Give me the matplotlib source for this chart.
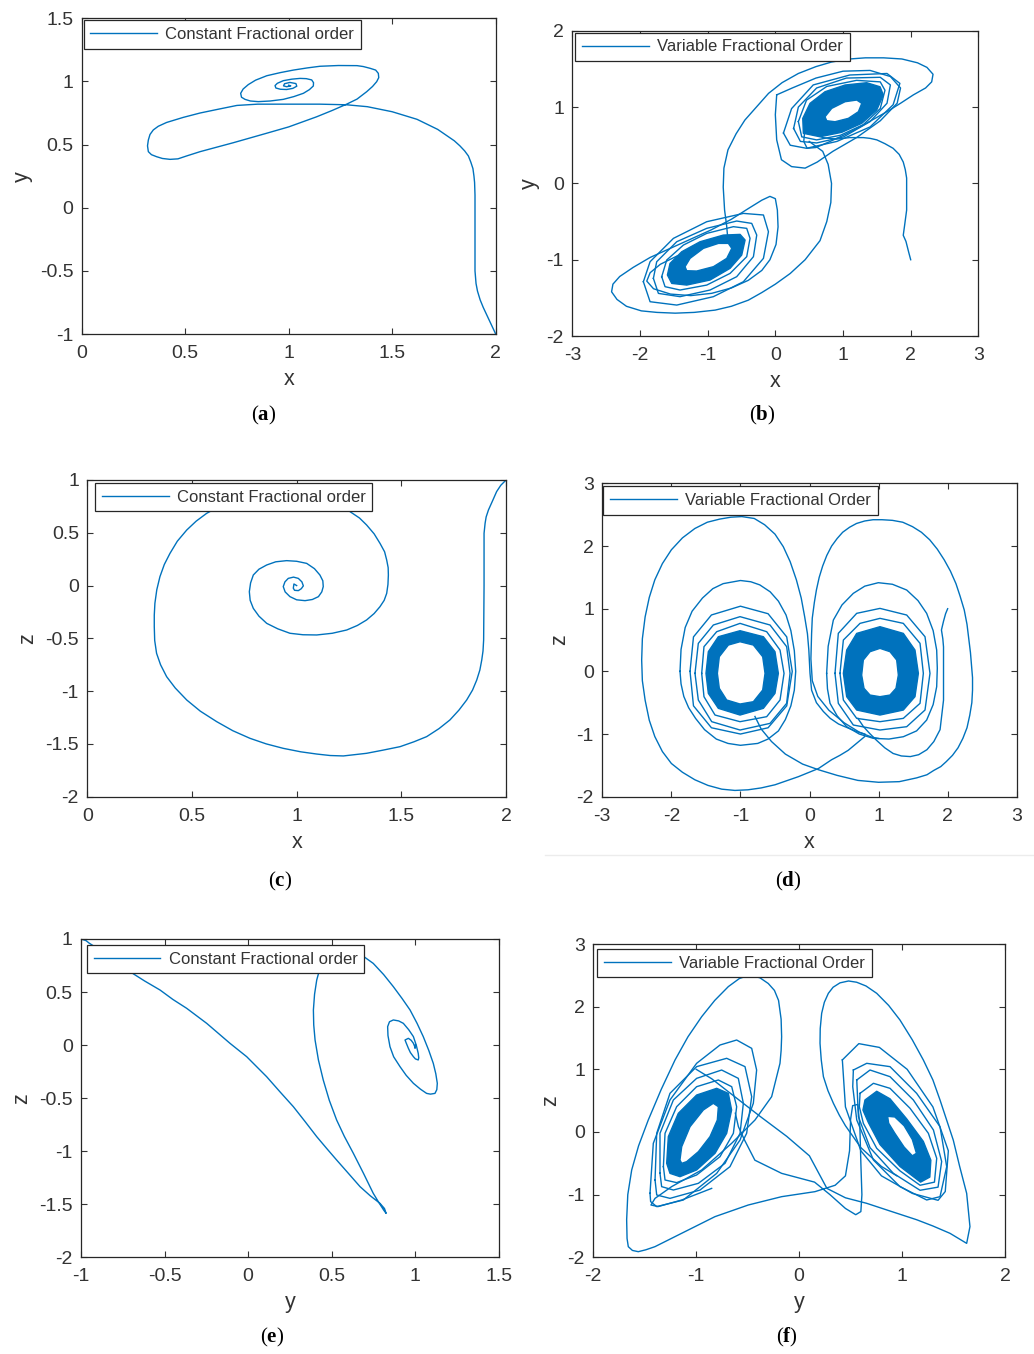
import numpy as np
import matplotlib
matplotlib.use("Agg")
import matplotlib.pyplot as plt
from matplotlib.path import Path
from matplotlib.patches import PathPatch
from matplotlib.lines import Line2D
from matplotlib.ticker import FuncFormatter

plt.rcParams['font.family'] = ['Liberation Sans', 'DejaVu Sans']
plt.rcParams['axes.unicode_minus'] = False
plt.rcParams['mathtext.fontset'] = 'custom'
plt.rcParams['mathtext.rm'] = 'Liberation Serif'
plt.rcParams['mathtext.bf'] = 'Liberation Serif:bold'

BLUE = '#0072BD'
INK = '#333333'

# ---------------- constant order: x-y ----------------
a_x = [2.0, 1.98, 1.96, 1.94, 1.925, 1.912, 1.905, 1.90, 1.90, 1.90, 1.898, 1.895, 1.89, 1.88, 1.868,
       1.85, 1.827, 1.80, 1.76, 1.72, 1.67, 1.62, 1.56, 1.50, 1.44, 1.38, 1.28, 1.15, 1.0, 0.85, 0.75,
       0.66, 0.572, 0.49, 0.41, 0.37, 0.346, 0.33, 0.322, 0.318, 0.322, 0.337, 0.362, 0.39, 0.427,
       0.465, 0.507, 0.572, 0.733, 0.894, 1.0, 1.135, 1.21, 1.28, 1.33, 1.377, 1.405, 1.425, 1.435,
       1.433, 1.42, 1.393, 1.36, 1.33, 1.24, 1.151, 1.09, 1.023, 0.96, 0.894, 0.84, 0.805, 0.78,
       0.768, 0.772, 0.789, 0.815, 0.853, 0.91, 0.974, 1.025, 1.071, 1.10, 1.119, 1.12, 1.111,
       1.085, 1.055, 1.015, 0.974, 0.945, 0.934, 0.938, 0.96, 0.99, 1.02, 1.039, 1.035, 1.006, 0.98,
       0.975, 0.99, 1.01, 1.0]
a_y = [-1.0, -0.93, -0.86, -0.79, -0.73, -0.66, -0.6, -0.5, -0.2, 0.1, 0.2, 0.25, 0.31, 0.36, 0.41,
       0.45, 0.49, 0.53, 0.575, 0.62, 0.66, 0.70, 0.73, 0.76, 0.78, 0.80, 0.815, 0.82, 0.82, 0.82,
       0.81, 0.78, 0.75, 0.715, 0.675, 0.645, 0.616, 0.58, 0.536, 0.49, 0.444, 0.42, 0.404, 0.39,
       0.383, 0.387, 0.41, 0.444, 0.515, 0.59, 0.64, 0.72, 0.77, 0.82, 0.86, 0.919, 0.96, 0.998,
       1.03, 1.064, 1.09, 1.104, 1.118, 1.125, 1.126, 1.12, 1.107, 1.09, 1.07, 1.045, 1.01, 0.975,
       0.94, 0.906, 0.875, 0.858, 0.845, 0.84, 0.845, 0.858, 0.88, 0.906, 0.935, 0.964, 0.99,
       1.012, 1.022, 1.024, 1.018, 1.006, 0.985, 0.967, 0.948, 0.938, 0.936, 0.945, 0.962, 0.983,
       0.992, 0.982, 0.965, 0.958, 0.965, 0.97]

# ---------------- constant order: x-z ----------------
c_x = [2.0, 1.975, 1.955, 1.935, 1.916, 1.905, 1.90, 1.895, 1.895, 1.893, 1.89, 1.884, 1.875, 1.86,
       1.84, 1.812, 1.775, 1.732, 1.68, 1.621, 1.56, 1.494, 1.41, 1.334, 1.223, 1.16, 1.096, 1.02,
       0.936, 0.855, 0.777, 0.695, 0.618, 0.54, 0.475, 0.42, 0.379, 0.35, 0.331, 0.322, 0.32, 0.32,
       0.323, 0.332, 0.347, 0.368, 0.395, 0.43, 0.475, 0.52, 0.57, 0.65, 0.75, 0.85, 0.95, 1.05,
       1.15, 1.21, 1.255, 1.30, 1.334, 1.37, 1.398, 1.42, 1.43, 1.437, 1.438, 1.436, 1.43, 1.418,
       1.398, 1.37, 1.334, 1.29, 1.239, 1.17, 1.096, 1.03, 0.968, 0.91, 0.857, 0.82, 0.793, 0.778,
       0.774, 0.78, 0.793, 0.82, 0.857, 0.90, 0.952, 1.0, 1.048, 1.085, 1.111, 1.125, 1.127, 1.12,
       1.104, 1.075, 1.04, 1.0, 0.968, 0.945, 0.936, 0.944, 0.96, 0.985, 1.008, 1.025, 1.032, 1.022,
       1.008, 0.99, 0.984, 0.987, 1.0]
c_z = [1.0, 0.95, 0.89, 0.80, 0.716, 0.65, 0.59, 0.495, 0.0, -0.516, -0.62, -0.705, -0.80, -0.895,
       -0.99, -1.084, -1.18, -1.273, -1.355, -1.431, -1.48, -1.526, -1.56, -1.589, -1.614, -1.61,
       -1.596, -1.575, -1.542, -1.50, -1.447, -1.375, -1.289, -1.19, -1.084, -0.97, -0.863, -0.75,
       -0.642, -0.52, -0.389, -0.28, -0.168, -0.04, 0.084, 0.20, 0.305, 0.42, 0.526, 0.61, 0.684,
       0.77, 0.83, 0.86, 0.87, 0.86, 0.83, 0.77, 0.70, 0.64, 0.574, 0.49, 0.40, 0.32, 0.242, 0.17,
       0.1, 0.01, -0.074, -0.14, -0.2, -0.265, -0.326, -0.378, -0.421, -0.452, -0.468, -0.466,
       -0.452, -0.41, -0.358, -0.29, -0.216, -0.14, -0.058, 0.025, 0.1, 0.155, 0.195, 0.225, 0.236,
       0.23, 0.21, 0.16, 0.1, 0.045, -0.01, -0.06, -0.105, -0.132, -0.143, -0.135, -0.105, -0.06,
       -0.01, 0.035, 0.068, 0.08, 0.068, 0.035, -0.003, -0.03, -0.048, -0.045, -0.025, 0.015, 0.0]

# ---------------- constant order: y-z ----------------
e_y = [-1.0, -0.97, -0.95, -0.90, -0.85, -0.78, -0.707, -0.62, -0.527, -0.45, -0.368, -0.248, -0.109,
       -0.009, 0.11, 0.19, 0.27, 0.34, 0.41, 0.47, 0.529, 0.60, 0.669, 0.73, 0.788, 0.815, 0.825,
       0.81, 0.78, 0.748, 0.69, 0.629, 0.575, 0.529, 0.485, 0.449, 0.42, 0.40, 0.392, 0.39, 0.397,
       0.41, 0.425, 0.44, 0.47, 0.50, 0.55, 0.60, 0.639, 0.695, 0.748, 0.81, 0.868, 0.92, 0.968,
       1.01, 1.047, 1.08, 1.107, 1.122, 1.131, 1.128, 1.117, 1.09, 1.067, 1.03, 0.988, 0.945, 0.908,
       0.87, 0.848, 0.836, 0.834, 0.845, 0.868, 0.90, 0.928, 0.96, 0.988, 1.005, 1.017, 1.02, 1.017,
       1.0, 0.988, 0.97, 0.958, 0.945, 0.938, 0.958, 0.975, 0.988, 0.995, 0.998, 1.0]
e_z = [1.0, 0.985, 0.96, 0.91, 0.86, 0.78, 0.692, 0.605, 0.519, 0.43, 0.347, 0.205, 0.017, -0.109,
       -0.297, -0.44, -0.58, -0.72, -0.863, -0.975, -1.083, -1.21, -1.334, -1.42, -1.491, -1.54,
       -1.586, -1.554, -1.48, -1.397, -1.21, -1.02, -0.86, -0.706, -0.52, -0.329, -0.14, 0.048,
       0.19, 0.331, 0.48, 0.614, 0.70, 0.77, 0.84, 0.88, 0.91, 0.905, 0.88, 0.83, 0.77, 0.665, 0.551,
       0.44, 0.331, 0.205, 0.08, -0.05, -0.172, -0.27, -0.36, -0.42, -0.455, -0.462, -0.455, -0.415,
       -0.36, -0.285, -0.203, -0.11, -0.015, 0.09, 0.174, 0.22, 0.237, 0.228, 0.205, 0.145, 0.08,
       0.0, -0.078, -0.12, -0.14, -0.13, -0.109, -0.07, -0.03, 0.02, 0.048, 0.064, 0.045, 0.017,
       -0.01, -0.03, 0.0]

# ---------------- variable order: x-y ----------------
b_x0 = [2.0, 1.97, 1.93, 1.89, 1.91, 1.94, 1.94, 1.94, 1.92, 1.89, 1.83, 1.74, 1.62, 1.50, 1.40,
        1.30, 1.20, 1.10, 0.90, 0.70, 0.55]
b_y0 = [-1.0, -0.9, -0.76, -0.68, -0.55, -0.35, -0.05, 0.07, 0.18, 0.28, 0.38, 0.46, 0.52, 0.57,
        0.59, 0.60, 0.60, 0.60, 0.58, 0.60, 0.66]

b_rbo_x = [0.414, 0.405, 0.513, 0.734, 1.03, 1.35, 1.547, 1.596, 1.498, 1.277, 0.981, 0.66]
b_rbo_y = [0.656, 0.852, 1.049, 1.201, 1.289, 1.319, 1.266, 1.158, 0.961, 0.787, 0.669, 0.611]
b_rbi_x = [0.734, 0.833, 1.03, 1.203, 1.277, 1.227, 1.079, 0.882, 0.759]
b_rbi_y = [0.873, 0.983, 1.07, 1.092, 1.049, 0.939, 0.852, 0.808, 0.821]

b_rl1_x = [0.34, 0.46, 0.76, 1.20, 1.55, 1.62, 1.55, 1.30, 0.96, 0.61, 0.39]
b_rl1_y = [0.81, 1.09, 1.27, 1.35, 1.33, 1.22, 0.98, 0.77, 0.63, 0.57, 0.61]
b_rl2_x = [0.27, 0.34, 0.61, 1.05, 1.55, 1.70, 1.65, 1.40, 1.01, 0.61, 0.37]
b_rl2_y = [0.72, 1.00, 1.25, 1.38, 1.39, 1.29, 1.05, 0.81, 0.61, 0.53, 0.55]
b_rl3_x = [0.12, 0.24, 0.56, 1.10, 1.65, 1.84, 1.74, 1.40, 0.91, 0.46, 0.22]
b_rl3_y = [0.66, 0.98, 1.29, 1.42, 1.44, 1.31, 1.03, 0.74, 0.55, 0.46, 0.50]
b_rl4_x = [0.02, 0.0, 0.02, 0.09, 0.24, 0.44, 0.62, 0.85, 1.2, 1.55, 1.8, 1.85, 1.7, 1.4, 1.0, 0.6, 0.25]
b_rl4_y = [1.16, 0.9, 0.57, 0.31, 0.22, 0.20, 0.28, 0.42, 0.6, 0.82, 1.05, 1.25, 1.40, 1.48, 1.47, 1.38, 1.25]

b_lbo_x = [-1.595, -1.556, -1.383, -1.112, -0.768, -0.521, -0.447, -0.497, -0.669, -0.965, -1.309, -1.531]
b_lbo_y = [-1.20, -1.048, -0.895, -0.764, -0.677, -0.668, -0.742, -0.939, -1.113, -1.266, -1.332, -1.31]
b_lbi_x = [-1.334, -1.26, -1.063, -0.841, -0.694, -0.644, -0.718, -0.915, -1.162, -1.31]
b_lbi_y = [-1.091, -0.982, -0.851, -0.786, -0.786, -0.851, -0.982, -1.091, -1.148, -1.144]

b_ll1_x = [-1.679, -1.605, -1.359, -1.014, -0.62, -0.423, -0.374, -0.423, -0.669, -1.014, -1.408, -1.63]
b_ll1_y = [-1.222, -1.004, -0.808, -0.655, -0.567, -0.589, -0.72, -0.96, -1.179, -1.332, -1.397, -1.353]
b_ll2_x = [-1.802, -1.753, -1.457, -1.014, -0.571, -0.349, -0.275, -0.324, -0.571, -0.965, -1.408, -1.728]
b_ll2_y = [-1.244, -1.026, -0.764, -0.589, -0.493, -0.524, -0.677, -0.96, -1.222, -1.397, -1.484, -1.441]
b_ll3_x = [-1.95, -1.851, -1.506, -1.014, -0.472, -0.176, -0.102, -0.176, -0.472, -0.916, -1.457, -1.851]
b_ll3_y = [-1.288, -1.026, -0.72, -0.502, -0.393, -0.414, -0.633, -0.982, -1.288, -1.484, -1.594, -1.55]

b_s1_x = [-0.70, -0.72, -0.75, -0.77, -0.76, -0.70, -0.58, -0.45, -0.25, -0.10, 0.10, 0.34, 0.60, 0.83,
          1.10, 1.33, 1.60, 1.87, 2.10, 2.24, 2.33, 2.31, 2.22, 2.04, 1.85, 1.65, 1.45, 1.25, 1.03,
          0.81, 0.60, 0.47, 0.42, 0.43]
b_s1_y = [-0.75, -0.55, -0.35, -0.05, 0.20, 0.44, 0.65, 0.83, 1.03, 1.18, 1.32, 1.44, 1.53, 1.59,
          1.63, 1.645, 1.645, 1.63, 1.58, 1.52, 1.43, 1.33, 1.25, 1.16, 1.05, 0.94, 0.84, 0.74, 0.64,
          0.55, 0.47, 0.46, 0.55, 0.65]
b_s2_x = [0.50, 0.70, 0.78, 0.83, 0.82, 0.76, 0.66, 0.44, 0.22, 0.0, -0.20, -0.40, -0.65, -0.89,
          -1.20, -1.48, -1.75, -1.98, -2.20, -2.34, -2.42, -2.40, -2.30, -2.10, -1.85, -1.55, -1.25,
          -0.95, -0.65, -0.40, -0.20, -0.08, 0.0, 0.03, 0.04, 0.01, -0.08, -0.20, -0.40, -0.65,
          -0.94, -1.25, -1.55, -1.80, -1.90, -1.85, -1.70, -1.45]
b_s2_y = [0.55, 0.42, 0.25, 0.0, -0.25, -0.50, -0.75, -1.0, -1.18, -1.32, -1.43, -1.53, -1.61, -1.66,
          -1.69, -1.70, -1.69, -1.67, -1.61, -1.52, -1.42, -1.32, -1.22, -1.10, -0.97, -0.85, -0.73,
          -0.61, -0.47, -0.33, -0.22, -0.17, -0.20, -0.35, -0.57, -0.80, -1.0, -1.14, -1.27, -1.37,
          -1.44, -1.47, -1.45, -1.38, -1.28, -1.17, -1.06, -0.95]

# ---------------- variable order: x-z ----------------
d_x0 = [2.0, 1.97, 1.94, 1.91, 1.93, 1.94, 1.94, 1.94, 1.89, 1.80, 1.70, 1.58, 1.46, 1.33, 1.21,
        1.09, 0.97, 0.87, 0.78, 0.70]
d_z0 = [1.0, 0.92, 0.80, 0.66, 0.52, 0.39, 0.0, -0.46, -0.93, -1.12, -1.25, -1.33, -1.36, -1.35,
        -1.31, -1.22, -1.10, -0.99, -0.88, -0.75]

d_rbo_x = [0.49, 0.538, 0.683, 1.02, 1.358, 1.527, 1.576, 1.527, 1.358, 1.02, 0.683, 0.538]
d_rbo_z = [-0.032, 0.34, 0.606, 0.713, 0.606, 0.34, -0.032, -0.404, -0.617, -0.697, -0.617, -0.404]
d_rbi_x = [0.755, 0.779, 0.876, 1.02, 1.165, 1.262, 1.286, 1.252, 1.165, 1.02, 0.876, 0.789]
d_rbi_z = [-0.059, 0.181, 0.314, 0.367, 0.314, 0.181, -0.059, -0.271, -0.378, -0.404, -0.378, -0.271]

d_rl1_x = [0.441, 0.49, 0.731, 1.02, 1.358, 1.6, 1.648, 1.6, 1.358, 1.02, 0.683, 0.49]
d_rl1_z = [-0.032, 0.5, 0.766, 0.846, 0.766, 0.447, -0.032, -0.51, -0.75, -0.803, -0.75, -0.457]
d_rl2_x = [0.369, 0.417, 0.683, 1.02, 1.407, 1.672, 1.744, 1.672, 1.407, 1.02, 0.634, 0.417]
d_rl2_z = [-0.032, 0.607, 0.926, 1.005, 0.899, 0.553, -0.032, -0.617, -0.883, -0.936, -0.856, -0.51]
d_rl3_x = [0.248, 0.27, 0.345, 0.47, 0.634, 0.80, 0.996, 1.20, 1.407, 1.57, 1.696, 1.79, 1.841,
           1.85, 1.841, 1.79, 1.696, 1.55, 1.358, 1.15, 0.924, 0.72, 0.538, 0.40, 0.297, 0.26]
d_rl3_z = [-0.032, 0.40, 0.819, 1.06, 1.245, 1.36, 1.415, 1.39, 1.298, 1.13, 0.926, 0.65, 0.34,
           0.05, -0.245, -0.53, -0.777, -0.95, -1.043, -1.08, -1.069, -1.0, -0.883, -0.71, -0.51, -0.28]

d_lbo_x = [-1.499, -1.465, -1.32, -1.006, -0.668, -0.5, -0.451, -0.5, -0.668, -1.006, -1.32, -1.465]
d_lbo_z = [-0.032, 0.314, 0.553, 0.649, 0.553, 0.314, -0.032, -0.351, -0.59, -0.697, -0.59, -0.351]
d_lbi_x = [-1.334, -1.306, -1.175, -1.006, -0.813, -0.678, -0.644, -0.678, -0.813, -1.006, -1.199, -1.306]
d_lbi_z = [-0.032, 0.234, 0.42, 0.473, 0.42, 0.234, -0.032, -0.298, -0.484, -0.521, -0.457, -0.271]

d_ll1_x = [-1.561, -1.528, -1.344, -1.006, -0.62, -0.427, -0.369, -0.427, -0.62, -1.006, -1.368, -1.528]
d_ll1_z = [-0.032, 0.394, 0.633, 0.766, 0.633, 0.34, -0.032, -0.457, -0.723, -0.803, -0.697, -0.404]
d_ll2_x = [-1.658, -1.61, -1.392, -1.006, -0.572, -0.331, -0.282, -0.331, -0.572, -1.006, -1.416, -1.61]
d_ll2_z = [-0.032, 0.447, 0.74, 0.873, 0.74, 0.394, -0.032, -0.51, -0.83, -0.936, -0.803, -0.457]
d_ll3_x = [-1.73, -1.68, -1.42, -1.0, -0.6, -0.33, -0.25, -0.33, -0.6, -1.0, -1.42, -1.68]
d_ll3_z = [0.0, 0.55, 0.9, 1.04, 0.92, 0.55, 0.0, -0.55, -0.9, -1.0, -0.9, -0.55]
d_ll4_x = [-1.875, -1.86, -1.80, -1.70, -1.55, -1.40, -1.25, -1.0, -0.85, -0.72, -0.57, -0.45, -0.34,
           -0.27, -0.22, -0.2, -0.22, -0.27, -0.35, -0.45, -0.6, -0.75, -1.0, -1.18, -1.35, -1.52,
           -1.65, -1.75, -1.82, -1.86]
d_ll4_z = [0.0, 0.35, 0.70, 0.96, 1.17, 1.32, 1.40, 1.45, 1.43, 1.38, 1.27, 1.12, 0.90, 0.65, 0.33,
           0.0, -0.3, -0.55, -0.77, -0.95, -1.08, -1.15, -1.18, -1.15, -1.08, -0.93, -0.75, -0.58,
           -0.4, -0.2]

d_p_x = [-0.79, -0.70, -0.55, -0.35, -0.10, 0.13, 0.40, 0.70, 1.0, 1.30, 1.55, 1.70, 1.80, 1.90, 1.98,
         2.07, 2.15, 2.22, 2.28, 2.32, 2.35, 2.36, 2.36, 2.33, 2.28, 2.24, 2.18, 2.12, 2.04, 1.95,
         1.85, 1.74, 1.62, 1.49, 1.35, 1.20, 1.05, 0.92, 0.80, 0.68, 0.58, 0.48, 0.40, 0.32, 0.25,
         0.19, 0.14, 0.10, 0.07, 0.04, 0.03, 0.02, 0.04, 0.12, 0.28, 0.50, 0.72, 0.90, 1.0]
d_p_z = [-0.72, -0.92, -1.12, -1.32, -1.48, -1.57, -1.66, -1.74, -1.77, -1.76, -1.70, -1.65, -1.58,
         -1.52, -1.44, -1.34, -1.22, -1.07, -0.90, -0.70, -0.50, -0.30, -0.10, 0.30, 0.75, 0.98,
         1.20, 1.40, 1.60, 1.78, 1.95, 2.10, 2.22, 2.31, 2.38, 2.41, 2.42, 2.42, 2.40, 2.36, 2.30,
         2.22, 2.12, 2.00, 1.85, 1.68, 1.50, 1.30, 1.10, 0.85, 0.60, 0.20, -0.15, -0.40, -0.62,
         -0.82, -0.97, -1.05, -1.07]
d_q_x = [0.80, 0.68, 0.56, 0.44, 0.32, 0.13, -0.16, -0.50, -0.70, -0.89, -1.08, -1.27, -1.47, -1.66,
         -1.84, -2.0, -2.13, -2.24, -2.32, -2.38, -2.42, -2.43, -2.42, -2.38, -2.32, -2.24, -2.13,
         -2.0, -1.84, -1.66, -1.48, -1.30, -1.14, -0.98, -0.80, -0.65, -0.50, -0.38, -0.28, -0.19,
         -0.12, -0.07, -0.03, -0.01, 0.007, 0.03, 0.10, 0.20, 0.30, 0.42, 0.55, 0.68, 0.80]
d_q_z = [-1.04, -1.15, -1.26, -1.34, -1.41, -1.55, -1.68, -1.81, -1.86, -1.89, -1.90, -1.88, -1.82,
         -1.73, -1.61, -1.47, -1.28, -1.04, -0.78, -0.46, -0.15, 0.18, 0.52, 0.87, 1.18, 1.46, 1.72,
         1.94, 2.13, 2.28, 2.38, 2.43, 2.46, 2.47, 2.44, 2.34, 2.19, 1.99, 1.75, 1.46, 1.17, 0.87,
         0.60, 0.34, -0.03, -0.30, -0.50, -0.64, -0.75, -0.84, -0.90, -0.96, -1.0]

# ---------------- variable order: y-z ----------------
f_y0 = [-1.0, -0.85, -0.67, -0.38, -0.12, 0.10, 0.27, 0.45, 0.656, 0.90, 1.142, 1.30, 1.466, 1.628,
        1.66, 1.628, 1.56, 1.498, 1.369, 1.30, 1.207, 1.10, 0.98, 0.87, 0.754, 0.65, 0.559, 0.48,
        0.397, 0.33, 0.284, 0.245, 0.219, 0.205, 0.203, 0.215, 0.236, 0.28, 0.333, 0.39, 0.45, 0.60,
        0.80, 0.95]
f_z0 = [1.0, 0.85, 0.62, 0.25, -0.07, -0.38, -0.90, -1.05, -1.138, -1.27, -1.40, -1.50, -1.617,
        -1.777, -1.51, -0.979, -0.55, -0.13, 0.511, 0.83, 1.149, 1.47, 1.787, 2.02, 2.213, 2.33,
        2.39, 2.41, 2.38, 2.31, 2.213, 2.07, 1.894, 1.65, 1.415, 1.15, 0.883, 0.66, 0.458, 0.27, 0.1,
        -0.25, -0.55, -0.70]

f_lbo_y = [-1.287, -1.271, -1.174, -0.996, -0.801, -0.688, -0.656, -0.704, -0.817, -0.996, -1.158, -1.255]
f_lbo_z = [-0.50, -0.074, 0.298, 0.59, 0.697, 0.617, 0.351, -0.021, -0.34, -0.606, -0.713, -0.66]
f_lbi_y = [-1.158, -1.141, -1.06, -0.931, -0.834, -0.785, -0.795, -0.866, -0.979, -1.093, -1.141]
f_lbi_z = [-0.447, -0.234, 0.085, 0.351, 0.458, 0.404, 0.191, -0.074, -0.314, -0.473, -0.5]

f_ll1_y = [-1.319, -1.303, -1.19, -0.996, -0.785, -0.655, -0.607, -0.639, -0.769, -0.996, -1.19, -1.303]
f_ll1_z = [-0.553, -0.021, 0.404, 0.723, 0.83, 0.723, 0.404, -0.021, -0.394, -0.686, -0.808, -0.766]
f_ll2_y = [-1.352, -1.352, -1.222, -0.996, -0.753, -0.591, -0.542, -0.574, -0.72, -0.979, -1.222, -1.336]
f_ll2_z = [-0.659, -0.021, 0.511, 0.856, 0.989, 0.856, 0.458, -0.021, -0.5, -0.819, -0.926, -0.872]
f_ll3_y = [-1.4, -1.384, -1.255, -0.996, -0.704, -0.526, -0.461, -0.51, -0.672, -0.963, -1.255, -1.384]
f_ll3_z = [-0.766, -0.021, 0.617, 1.043, 1.176, 1.043, 0.564, -0.021, -0.553, -0.926, -1.059, -1.005]
f_ll4_y = [-1.449, -1.417, -1.255, -0.996, -0.769, -0.607, -0.461, -0.413, -0.445, -0.574, -0.801,
           -1.125, -1.384, -1.443]
f_ll4_z = [-0.979, -0.181, 0.511, 1.096, 1.388, 1.468, 1.335, 0.989, 0.458, -0.128, -0.66, -1.085,
           -1.191, -1.111]

f_out_y = [-0.85, -1.14, -1.37, -1.44, -1.40, -1.239, -0.947, -0.656, -0.429, -0.267, -0.186, -0.175,
           -0.17, -0.175, -0.2, -0.24, -0.3, -0.38, -0.478, -0.58, -0.688, -0.82, -0.947, -1.08,
           -1.206, -1.34, -1.466, -1.56, -1.627, -1.665, -1.676, -1.672, -1.66, -1.62, -1.563, -1.49,
           -1.401, -1.142, -0.818, -0.494, -0.17, 0.154, 0.35, 0.45, 0.49, 0.50, 0.52, 0.57, 0.59,
           0.60, 0.61, 0.60, 0.55, 0.45, 0.30, 0.15, -0.17, -0.43, -0.53, -0.59, -0.62]
f_out_z = [-0.90, -1.085, -1.19, -1.165, -1.059, -0.872, -0.606, -0.181, 0.191, 0.564, 1.096, 1.30,
           1.52, 1.80, 2.1, 2.26, 2.37, 2.46, 2.505, 2.45, 2.32, 2.10, 1.84, 1.52, 1.149, 0.68, 0.191,
           -0.22, -0.606, -1.0, -1.40, -1.70, -1.83, -1.89, -1.91, -1.88, -1.83, -1.617, -1.351,
           -1.165, -1.032, -0.952, -0.85, -0.70, -0.30, 0.20, 0.42, 0.44, 0.10, -0.50, -1.0, -1.27,
           -1.32, -1.22, -1.0, -0.80, -0.66, -0.45, -0.13, 0.085, 0.3]

f_rbo_y = [0.64, 0.754, 0.883, 1.045, 1.207, 1.28, 1.27, 1.18, 0.98, 0.786, 0.673, 0.62]
f_rbo_z = [0.511, 0.65, 0.53, 0.21, -0.15, -0.45, -0.72, -0.80, -0.55, -0.2, 0.15, 0.35]
f_rbi_y = [0.86, 0.93, 1.02, 1.10, 1.14, 1.10, 1.02, 0.93, 0.87]
f_rbi_z = [0.25, 0.24, 0.10, -0.12, -0.34, -0.38, -0.24, -0.02, 0.14]

f_rl1_y = [0.592, 0.722, 0.883, 1.078, 1.256, 1.337, 1.315, 1.175, 0.98, 0.754, 0.624, 0.585]
f_rl1_z = [0.617, 0.777, 0.697, 0.378, -0.021, -0.42, -0.80, -0.85, -0.62, -0.26, 0.138, 0.404]
f_rl2_y = [0.56, 0.689, 0.883, 1.11, 1.305, 1.385, 1.35, 1.175, 0.916, 0.689, 0.576]
f_rl2_z = [0.83, 0.989, 0.883, 0.511, 0.032, -0.47, -0.88, -0.93, -0.66, -0.25, 0.245]
f_rl3_y = [0.527, 0.657, 0.883, 1.142, 1.369, 1.434, 1.369, 1.24, 0.98, 0.722, 0.56, 0.521]
f_rl3_z = [0.989, 1.096, 1.043, 0.617, 0.085, -0.553, -1.032, -1.085, -0.872, -0.447, 0.192, 0.723]
f_rl4_y = [0.42, 0.58, 0.78, 1.05, 1.3, 1.45, 1.42, 1.35, 1.1, 0.8, 0.6, 0.45]
f_rl4_z = [1.15, 1.41, 1.35, 1.0, 0.4, -0.3, -0.95, -1.09, -0.98, -0.7, -0.3, 0.4]


def trace(ax, xs, ys, label=None):
    ax.plot(xs, ys, color=BLUE, lw=1.0, label=label, solid_joinstyle='round')


def loop(ax, xs, ys):
    ax.plot(list(xs) + [xs[0]], list(ys) + [ys[0]], color=BLUE, lw=1.0, solid_joinstyle='round')


def signed_area(xs, ys):
    x = np.asarray(xs)
    y = np.asarray(ys)
    return 0.5 * np.sum(x * np.roll(y, -1) - np.roll(x, -1) * y)


def band(ax, ox, oy, ix, iy):
    # densely wound part of the orbit, drawn as a filled ring
    ix, iy = list(ix), list(iy)
    if np.sign(signed_area(ox, oy)) == np.sign(signed_area(ix, iy)):
        ix, iy = ix[::-1], iy[::-1]
    verts = list(zip(ox, oy)) + [(ox[0], oy[0])] + list(zip(ix, iy)) + [(ix[0], iy[0])]
    codes = ([Path.MOVETO] + [Path.LINETO] * (len(ox) - 1) + [Path.CLOSEPOLY] +
             [Path.MOVETO] + [Path.LINETO] * (len(ix) - 1) + [Path.CLOSEPOLY])
    ax.add_patch(PathPatch(Path(verts, codes), facecolor=BLUE, edgecolor=BLUE, lw=1.0,
                           joinstyle='round'))


def style(ax, xlim, ylim, xt, yt, xl, yl, leg_off):
    ax.set_xlim(xlim)
    ax.set_ylim(ylim)
    ax.set_xticks(xt)
    ax.set_yticks(yt)
    fmt = FuncFormatter(lambda v, p: '%g' % v)
    ax.xaxis.set_major_formatter(fmt)
    ax.yaxis.set_major_formatter(fmt)
    ax.tick_params(direction='in', top=True, right=True, length=4, width=0.8,
                   labelsize=14, colors=INK)
    ax.tick_params(axis='x', pad=8)
    ax.tick_params(axis='y', pad=6)
    for s in ax.spines.values():
        s.set_color('#262626')
        s.set_linewidth(0.9)
    ax.set_xlabel(xl, fontsize=15.5, color=INK, labelpad=5)
    ax.set_ylabel(yl, fontsize=15.5, color=INK, labelpad=5)
    # legend box sits a few pixels in from the top-left corner
    bb = ax.get_position()
    w_px = bb.width * fig.get_figwidth() * fig.dpi
    h_px = bb.height * fig.get_figheight() * fig.dpi
    dx, dy = leg_off
    lg = ax.legend(loc='upper left', bbox_to_anchor=(dx / w_px, 1 - dy / h_px),
                   fontsize=12, handlelength=4.0, handletextpad=0.5,
                   borderpad=0.4, borderaxespad=0.0, fancybox=False, framealpha=1,
                   edgecolor='#262626')
    lg.get_frame().set_linewidth(0.9)
    for t in lg.get_texts():
        t.set_color(INK)


fig = plt.figure(figsize=(10.34, 13.54), dpi=100)

ax_a = fig.add_axes([0.079, 0.7533, 0.4004, 0.2332])
ax_b = fig.add_axes([0.5535, 0.7518, 0.3927, 0.2255])
ax_c = fig.add_axes([0.0844, 0.4116, 0.405, 0.2339])
ax_d = fig.add_axes([0.5825, 0.4116, 0.4008, 0.2314])
ax_e = fig.add_axes([0.0783, 0.0714, 0.4043, 0.2351])
ax_f = fig.add_axes([0.5738, 0.0714, 0.3981, 0.2314])

const_lab = 'Constant Fractional order'
var_lab = 'Variable Fractional Order'

# (a)
trace(ax_a, a_x, a_y, const_lab)
style(ax_a, (0, 2), (-1, 1.5), np.arange(0, 2.01, 0.5), np.arange(-1, 1.51, 0.5), 'x', 'y', (2, 2))

# (b)
trace(ax_b, b_x0, b_y0, var_lab)
band(ax_b, b_rbo_x, b_rbo_y, b_rbi_x, b_rbi_y)
band(ax_b, b_lbo_x, b_lbo_y, b_lbi_x, b_lbi_y)
for xs, ys in [(b_rl1_x, b_rl1_y), (b_rl2_x, b_rl2_y), (b_rl3_x, b_rl3_y), (b_rl4_x, b_rl4_y),
               (b_ll1_x, b_ll1_y), (b_ll2_x, b_ll2_y), (b_ll3_x, b_ll3_y)]:
    loop(ax_b, xs, ys)
trace(ax_b, b_s1_x, b_s1_y)
trace(ax_b, b_s2_x, b_s2_y)
style(ax_b, (-3, 3), (-2, 2), np.arange(-3, 3.01, 1), np.arange(-2, 2.01, 1), 'x', 'y', (3, 2))

# (c)
trace(ax_c, c_x, c_z, const_lab)
style(ax_c, (0, 2), (-2, 1), np.arange(0, 2.01, 0.5), np.arange(-2, 1.01, 0.5), 'x', 'z', (8, 3))

# (d)
trace(ax_d, d_x0, d_z0, var_lab)
band(ax_d, d_rbo_x, d_rbo_z, d_rbi_x, d_rbi_z)
band(ax_d, d_lbo_x, d_lbo_z, d_lbi_x, d_lbi_z)
for xs, zs in [(d_rl1_x, d_rl1_z), (d_rl2_x, d_rl2_z), (d_rl3_x, d_rl3_z),
               (d_ll1_x, d_ll1_z), (d_ll2_x, d_ll2_z), (d_ll3_x, d_ll3_z), (d_ll4_x, d_ll4_z)]:
    loop(ax_d, xs, zs)
trace(ax_d, d_p_x, d_p_z)
trace(ax_d, d_q_x, d_q_z)
style(ax_d, (-3, 3), (-2, 3), np.arange(-3, 3.01, 1), np.arange(-2, 3.01, 1), 'x', 'z', (1, 3))

# (e)
trace(ax_e, e_y, e_z, const_lab)
style(ax_e, (-1, 1.5), (-2, 1), np.arange(-1, 1.51, 0.5), np.arange(-2, 1.01, 0.5), 'y', 'z', (6, 6))

# (f)
trace(ax_f, f_y0, f_z0, var_lab)
band(ax_f, f_lbo_y, f_lbo_z, f_lbi_y, f_lbi_z)
band(ax_f, f_rbo_y, f_rbo_z, f_rbi_y, f_rbi_z)
for ys, zs in [(f_ll1_y, f_ll1_z), (f_ll2_y, f_ll2_z), (f_ll3_y, f_ll3_z), (f_ll4_y, f_ll4_z),
               (f_rl1_y, f_rl1_z), (f_rl2_y, f_rl2_z), (f_rl3_y, f_rl3_z), (f_rl4_y, f_rl4_z)]:
    loop(ax_f, ys, zs)
trace(ax_f, f_out_y, f_out_z)
style(ax_f, (-2, 2), (-2, 3), np.arange(-2, 2.01, 1), np.arange(-2, 3.01, 1), 'y', 'z', (4, 5))

# sub-figure captions
caps = [('a', 0.255, 0.693), ('b', 0.737, 0.693), ('c', 0.271, 0.349),
        ('d', 0.762, 0.349), ('e', 0.263, 0.012), ('f', 0.761, 0.012)]
for letter, cx, cy in caps:
    fig.text(cx, cy, r'$\mathrm{(}\mathbf{%s}\mathrm{)}$' % letter, fontsize=15,
             ha='center', va='center', color='black')

fig.add_artist(Line2D([545 / 1034, 1.0], [1 - 855 / 1354] * 2, color='#ececec', lw=1,
                      transform=fig.transFigure))

fig.savefig('out.png', dpi=100)
